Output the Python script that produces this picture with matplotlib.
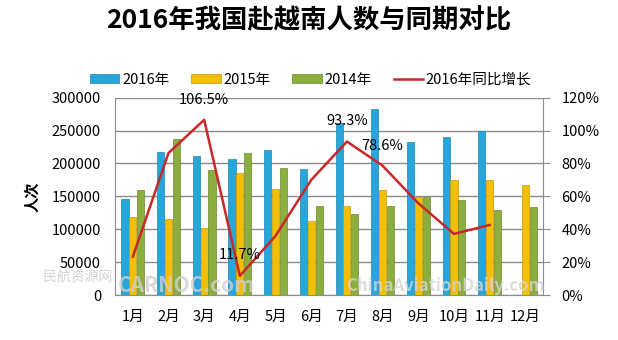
import numpy as np
import matplotlib
matplotlib.use("Agg")
import matplotlib.pyplot as plt

plt.rcParams['font.family'] = ['Noto Sans CJK SC', 'DejaVu Sans']

meses = ["1月", "2月", "3月", "4月", "5月", "6月", "7月", "8月", "9月", "10月", "11月", "12月"]
v2016 = [146500, 218000, 212000, 207000, 220700, 192000, 261000, 282800, 233000, 240000, 250000, np.nan]
v2015 = [118600, 116000, 102000, 185300, 161600, 112000, 135300, 159000, 149000, 175300, 175000, 167700]
v2014 = [160000, 237400, 190400, 215600, 193400, 135300, 123800, 134800, 149000, 144000, 129800, 133800]
crecimiento = [23.3, 86.3, 106.5, 11.7, 36.0, 70.0, 93.3, 78.6, 55.8, 37.2, 42.6, np.nan]
etiquetas = {2: "106.5%", 3: "11.7%", 6: "93.3%", 7: "78.6%"}

azul = "#27A6DB"
amarillo = "#F3BE06"
verde = "#8CAE3E"
rojo = "#C8282A"

fig = plt.figure(figsize=(6.18, 3.40), dpi=100)
ax = fig.add_axes([0.186, 0.132, 0.693, 0.581])

x = np.arange(len(meses))
w = 0.2
ax.bar(x - 0.22, v2016, w, color=azul, edgecolor="#1A86B5", linewidth=0.5, label="2016年", zorder=3)
ax.bar(x, v2015, w, color=amarillo, edgecolor="#C79A00", linewidth=0.5, label="2015年", zorder=3)
ax.bar(x + 0.22, v2014, w, color=verde, edgecolor="#6B8A2A", linewidth=0.5, label="2014年", zorder=3)

ax.set_xlim(-0.5, 11.5)
ax.set_ylim(0, 300000)
ax.set_yticks(range(0, 300001, 50000))
ax.set_xticks(x)
ax.set_xticklabels(meses)
ax.tick_params(axis="y", labelsize=10.5, length=0, pad=10)
ax.tick_params(axis="x", labelsize=10.5, length=0, pad=11)
ax.yaxis.grid(True, color="#8C8C8C", linewidth=1.0, zorder=0)
ax.spines["top"].set_visible(False)
for s in ["left", "right", "bottom"]:
    ax.spines[s].set_color("#8C8C8C")
ax.set_ylabel("人次", fontsize=11, fontweight="bold", labelpad=8)

ax2 = ax.twinx()
ax2.plot(x, crecimiento, color=rojo, linewidth=1.8, label="2016年同比增长", zorder=4)
ax2.set_ylim(0, 120)
ax2.set_yticks(range(0, 121, 20))
ax2.set_yticklabels([f"{t}%" for t in range(0, 121, 20)])
ax2.tick_params(axis="y", labelsize=10.5, length=5, color="#8C8C8C", pad=8)
for s in ["top", "left", "right", "bottom"]:
    ax2.spines[s].set_visible(False)

offsets = {2: (0, 9), 3: (0, 10), 6: (0, 10), 7: (0, 9)}
for i, txt in etiquetas.items():
    dx, dy = offsets[i]
    ax2.annotate(txt, (x[i], crecimiento[i]), xytext=(dx, dy), textcoords="offset points",
                 ha="center", va="bottom", fontsize=10.5, zorder=5)

fig.text(0.5, 0.94, "2016年我国赴越南人数与同期对比", ha="center", va="center",
         fontsize=19, fontweight="bold")

h1, l1 = ax.get_legend_handles_labels()
h2, l2 = ax2.get_legend_handles_labels()
fig.legend(h1 + h2, l1 + l2, loc="center", bbox_to_anchor=(0.503, 0.765), ncol=4,
           frameon=False, fontsize=10.5, handlelength=2.0, handleheight=0.6,
           handletextpad=0.2, columnspacing=1.5)

# marcas de agua
fig.text(0.07, 0.175, "民航资源网", fontsize=10, color="#C8C8C8", alpha=0.8)
fig.text(0.19, 0.14, "CARNOC.com", fontsize=15, color="#D0D0D0", alpha=0.8,
         fontweight="bold", style="italic")
fig.text(0.56, 0.145, "ChinaAviationDaily.com", fontsize=12, color="#D5D5D5", alpha=0.8,
         fontweight="bold")

plt.savefig("out.png", dpi=100)
